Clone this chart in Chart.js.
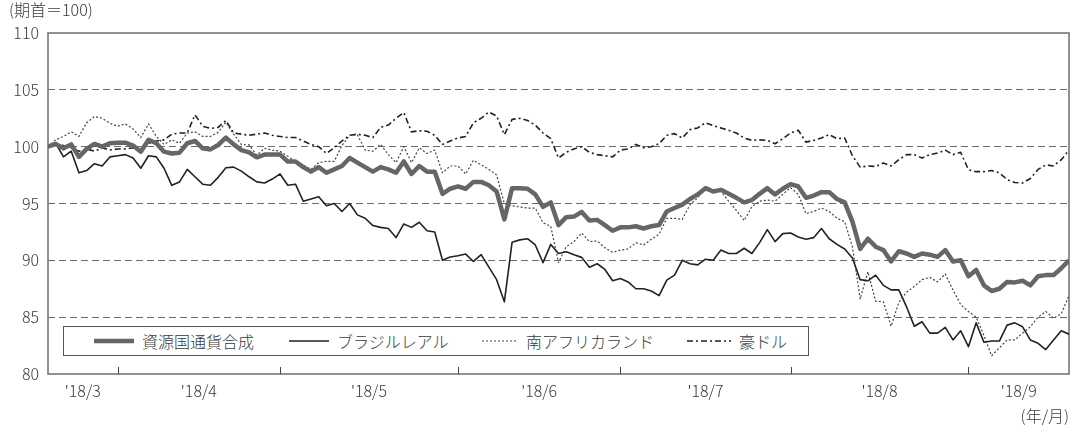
<!DOCTYPE html>
<html><head><meta charset="utf-8">
<script src="https://cdn.jsdelivr.net/npm/chart.js@4"></script>
<style>
html,body{margin:0;padding:0;background:#fff;}
#wrap{position:relative;width:1076px;height:426px;font-family:'Noto Sans CJK JP','Noto Sans',sans-serif;font-weight:300;color:#3a3a3a;}
canvas{position:absolute;left:0;top:0;}
.txt{position:absolute;font-size:16px;line-height:20px;white-space:nowrap;}
#legend{position:absolute;left:63px;top:326px;width:744px;height:28px;border:1px solid #555;background:#fff;}
.item{position:absolute;top:0;height:28px;display:flex;align-items:center;font-size:16px;white-space:nowrap;}
.item svg{margin-right:8px;display:block;}
</style></head>
<body>
<div id="wrap">
<canvas id="c" width="1076" height="426"></canvas>
<div class="txt" style="left:9px;top:-1px">(期首＝100)</div>
<div class="txt" style="right:7px;top:405px">(年/月)</div>
<div id="legend"></div>
</div>
<script>
// ---- categories / ticks ----
const monthLabels = ["'18/3","'18/4","'18/5","'18/6","'18/7","'18/8","'18/9"];
const monthStartIndex = [0, 9, 30, 53, 74, 96, 119];   // index of first business day of each month
const lastIndex = 132;                                // 2018/9/20
const yTicks = [80, 85, 90, 95, 100, 105, 110];
const seriesNames = ["資源国通貨合成", "ブラジルレアル", "南アフリカランド", "豪ドル"];

// ---- series values (period start = 100) ----
const composite = [
 100.0,100.24,99.85,100.2,99.1,99.8,100.24,100.0,100.3,100.35,
 100.35,100.1,99.56,100.6,100.3,99.56,99.4,99.47,100.3,100.5,
 99.85,99.76,100.15,100.8,100.2,99.7,99.5,99.06,99.3,99.3,
 99.3,98.7,98.7,98.2,97.8,98.2,97.7,98.0,98.3,99.0,
 98.6,98.2,97.8,98.2,98.0,97.7,98.7,97.6,98.3,97.8,
 97.8,95.85,96.3,96.5,96.3,96.9,96.9,96.6,96.06,93.6,
 96.35,96.35,96.3,95.8,94.7,95.1,93.1,93.8,93.85,94.26,
 93.5,93.56,93.1,92.6,92.9,92.9,93.0,92.8,93.0,93.1,
 94.3,94.6,94.9,95.4,95.8,96.35,96.06,96.2,95.85,95.5,
 95.1,95.3,95.85,96.35,95.8,96.3,96.7,96.5,95.5,95.7,
 96.0,96.0,95.4,95.1,93.4,91.0,91.9,91.2,90.9,89.9,
 90.8,90.6,90.3,90.6,90.5,90.3,90.9,89.9,90.0,88.6,
 89.15,87.8,87.3,87.5,88.1,88.06,88.2,87.8,88.6,88.7,
 88.7,89.3,90.0];
const brl = [
 100.0,100.3,99.1,99.6,97.7,97.9,98.5,98.3,99.1,99.2,
 99.3,99.0,98.1,99.2,99.1,98.1,96.6,96.9,98.0,97.35,
 96.7,96.6,97.3,98.15,98.2,97.85,97.35,96.9,96.8,97.15,
 97.6,96.6,96.7,95.2,95.4,95.6,94.8,95.0,94.3,95.0,
 94.0,93.7,93.06,92.9,92.8,92.0,93.2,92.9,93.35,92.6,
 92.5,90.0,90.3,90.4,90.55,89.9,90.5,89.4,88.3,86.35,
 91.6,91.8,91.9,91.35,89.8,91.4,90.6,90.76,90.5,90.26,
 89.4,89.7,89.2,88.2,88.4,88.1,87.5,87.5,87.3,86.9,
 88.26,88.7,90.0,89.7,89.6,90.1,90.0,90.9,90.6,90.6,
 91.06,90.6,91.56,92.7,91.65,92.35,92.4,92.05,91.85,92.0,
 92.8,91.9,91.4,91.0,90.2,88.3,88.2,88.7,87.8,87.4,
 87.4,85.9,84.2,84.6,83.6,83.6,84.1,83.0,83.8,82.4,
 84.5,82.8,82.9,82.9,84.3,84.5,84.15,83.0,82.7,82.15,
 83.0,83.8,83.5];
const zar = [
 100.0,100.6,100.9,101.3,100.9,102.1,102.65,102.5,102.06,101.8,
 102.0,101.56,100.8,102.0,100.9,100.2,100.6,100.3,101.2,101.3,
 100.9,100.9,101.26,102.15,101.1,100.2,100.15,99.26,99.85,99.7,
 99.6,99.15,98.7,98.4,98.0,98.6,98.7,98.7,100.1,101.0,
 101.06,99.7,99.6,100.2,99.3,98.6,100.0,98.6,99.9,99.4,
 99.7,97.7,98.3,98.3,97.6,98.8,98.4,98.0,97.5,95.0,
 94.8,94.7,94.6,94.6,93.3,93.0,89.8,91.2,91.65,92.4,
 91.65,91.7,91.1,90.7,90.9,91.0,91.56,91.35,91.85,92.3,
 93.7,93.7,93.6,94.9,95.5,96.5,96.2,96.06,95.2,94.4,
 93.5,94.7,95.2,95.3,95.2,95.8,96.4,95.8,94.1,94.3,
 94.6,94.3,93.7,93.4,91.2,86.6,89.0,86.4,86.35,84.2,
 86.3,87.2,87.7,88.3,88.5,88.1,88.8,87.4,86.1,85.5,
 85.0,83.4,81.6,82.3,83.0,83.0,83.6,84.15,85.0,85.5,
 84.9,85.3,86.9];
const aud = [
 100.0,100.2,100.1,99.9,99.6,99.8,99.6,99.9,99.7,99.8,
 99.8,99.9,99.7,100.3,100.5,100.6,101.1,101.2,101.2,102.8,
 101.8,101.6,101.7,102.3,101.2,101.1,101.0,101.1,101.2,101.0,
 100.9,100.8,100.8,100.5,100.2,100.0,99.4,99.9,100.5,101.0,
 101.1,101.0,100.8,101.7,101.9,102.5,103.0,101.3,101.4,101.35,
 101.0,100.2,100.5,100.76,100.9,102.1,102.5,103.05,102.7,101.06,
 102.4,102.5,102.3,101.9,101.2,100.7,99.0,99.5,99.8,100.0,
 99.5,99.3,99.2,99.1,99.7,99.8,100.2,99.9,100.0,100.26,
 101.0,101.15,100.76,101.5,101.65,102.1,101.85,101.65,101.44,101.2,
 100.76,100.56,100.6,100.56,100.26,100.7,101.2,101.44,100.4,100.56,
 100.76,101.06,100.7,100.76,99.2,98.2,98.3,98.26,98.56,98.3,
 98.85,99.3,99.3,99.0,99.3,99.44,99.7,99.3,99.5,97.97,
 97.8,97.8,97.9,97.7,97.1,96.85,96.8,97.2,98.0,98.4,
 98.3,98.85,99.7];

// ---- derived ----
const toXY = arr => arr.map((v, i) => ({x: i, y: v}));
const monthCenters = monthStartIndex.map((s, k) =>
  (s + (k + 1 < monthStartIndex.length ? monthStartIndex[k + 1] : lastIndex)) / 2);

const styles = [
  {color: '#666666', width: 4.5, dash: []},
  {color: '#222222', width: 1.6, dash: []},
  {color: '#444444', width: 1.2, dash: [2, 2]},
  {color: '#222222', width: 1.6, dash: [6, 3, 2, 3]}
];
const values = [composite, brl, zar, aud];

Chart.defaults.font.family = "'Noto Sans CJK JP','Noto Sans',sans-serif";
Chart.defaults.font.weight = 300;
Chart.defaults.color = '#3a3a3a';

const framePlugin = {
  id: 'frame',
  beforeDatasetsDraw(chart) {
    const {ctx, chartArea: a} = chart;
    ctx.save();
    ctx.strokeStyle = '#777';
    ctx.lineWidth = 1.6;
    ctx.strokeRect(a.left, a.top, a.right - a.left, a.bottom - a.top);
    const xs = chart.scales.x;
    ctx.strokeStyle = '#444';
    ctx.lineWidth = 1;
    monthStartIndex.slice(1).forEach(i => {
      const px = Math.round(xs.getPixelForValue(i)) + 0.5;
      ctx.beginPath();
      ctx.moveTo(px, a.bottom);
      ctx.lineTo(px, a.bottom - 7);
      ctx.stroke();
    });
    ctx.restore();
  }
};

const chart = new Chart(document.getElementById('c'), {
  type: 'line',
  data: {
    datasets: values.map((arr, k) => ({
      label: seriesNames[k],
      data: toXY(arr),
      borderColor: styles[k].color,
      borderWidth: styles[k].width,
      borderDash: styles[k].dash,
      pointRadius: 0,
      tension: 0,
      fill: false,
      borderJoinStyle: 'round'
    }))
  },
  options: {
    responsive: false,
    animation: false,
    devicePixelRatio: 1,
    layout: {padding: {top: 33, right: 7, left: 0, bottom: 0}},
    plugins: {legend: {display: false}, tooltip: {enabled: false}},
    scales: {
      x: {
        type: 'linear', min: 0, max: lastIndex, offset: false,
        afterBuildTicks: s => { s.ticks = monthCenters.map(v => ({value: v})); },
        afterFit: s => { s.height = 52; },
        grid: {display: false, drawTicks: false},
        border: {display: false},
        ticks: {autoSkip: false, maxRotation: 0, padding: 7, font: {size: 16, weight: 300},
          callback: (v, i) => monthLabels[i]}
      },
      y: {
        min: 80, max: 110,
        afterBuildTicks: s => { s.ticks = yTicks.map(v => ({value: v})); },
        afterFit: s => { s.width = 48; },
        ticks: {padding: 9, font: {size: 16, weight: 300}},
        grid: {drawTicks: false, lineWidth: 1,
          color: c => (c.tick && c.tick.value > 80 && c.tick.value < 110) ? '#6a6a6a' : 'rgba(0,0,0,0)'},
        border: {display: false, dash: [7, 4]}
      }
    }
  },
  plugins: [framePlugin]
});

// ---- legend (HTML, from dataset config) ----
const legendPos = [30, 225, 418, 623];
const sampleLen = [40, 40, 36, 44];
const lg = document.getElementById('legend');
chart.data.datasets.forEach((ds, k) => {
  const it = document.createElement('div');
  it.className = 'item';
  it.style.left = legendPos[k] + 'px';
  const w = sampleLen[k];
  it.innerHTML = `<svg width="${w}" height="10"><line x1="0" y1="5" x2="${w}" y2="5" stroke="${ds.borderColor}" stroke-width="${ds.borderWidth}" stroke-dasharray="${ds.borderDash.join(' ')}"/></svg><span>${ds.label}</span>`;
  lg.appendChild(it);
});
</script>
</body></html>
